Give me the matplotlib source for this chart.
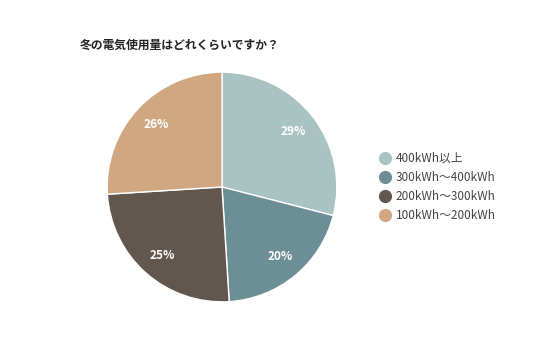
import matplotlib.pyplot as plt
from matplotlib.lines import Line2D

plt.rcParams['font.family'] = ['Noto Sans CJK JP', 'DejaVu Sans']

# data
labels = ['400kWh以上', '300kWh～400kWh', '200kWh～300kWh', '100kWh～200kWh']
values = [29, 20, 25, 26]
colors = ['#a9c2c2', '#6b8f94', '#62574e', '#cfa882']
title = '冬の電気使用量はどれくらいですか？'

fig = plt.figure(figsize=(5.36, 3.57), dpi=100)
ax = fig.add_axes([106/536, 54/357, 232/536, 232/357])

wedges, texts, autotexts = ax.pie(
    values, colors=colors, startangle=90, counterclock=False,
    autopct='%d%%', pctdistance=0.79, radius=1.0,
    wedgeprops=dict(edgecolor='white', linewidth=1.0),
    textprops=dict(color='white', fontsize=8.5, fontweight='bold'))
ax.set_xlim(-1.01, 1.01)
ax.set_ylim(-1.01, 1.01)
ax.set_aspect('equal')

fig.text(80/536, 1 - 45/357, title, fontsize=8.5, fontweight='bold',
         color='#222222', va='center', ha='left')

handles = [Line2D([0], [0], marker='o', linestyle='none', markersize=8.5,
                  markerfacecolor=c, markeredgecolor=c) for c in colors]
fig.legend(handles, labels, loc='upper left',
           bbox_to_anchor=(374/536, 1 - 147/357), frameon=False,
           fontsize=8.5, labelcolor='#444444', handletextpad=0.35,
           labelspacing=0.52, handlelength=1.1, borderaxespad=0)

fig.savefig('out.png', dpi=100)
